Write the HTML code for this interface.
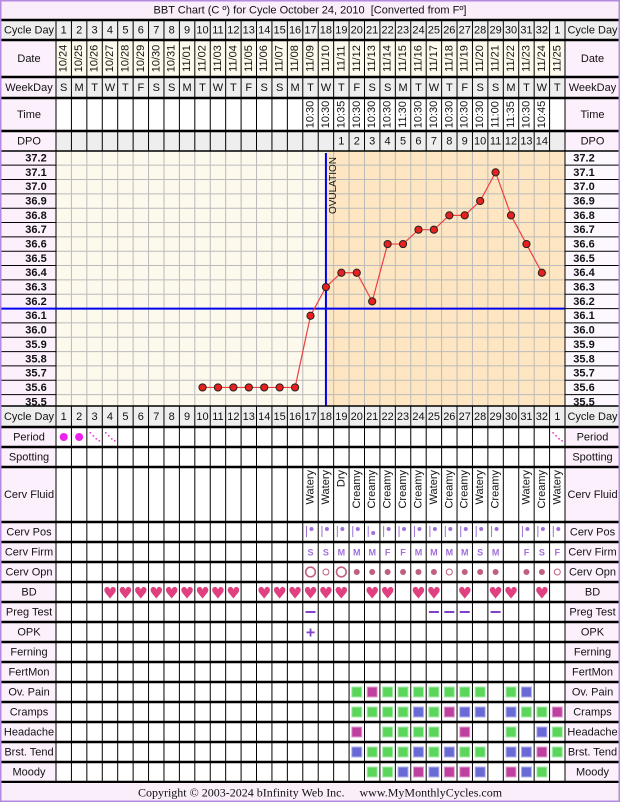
<!DOCTYPE html>
<html><head><meta charset="utf-8">
<style>
html,body{margin:0;padding:0;background:#fff;}
svg{display:block;font-family:"Liberation Sans",sans-serif;}
</style></head>
<body>
<svg id="c" width="620" height="802" viewBox="0 0 620 802" xmlns="http://www.w3.org/2000/svg"></svg>
<script>
// ---- data ----
const cycleDays = [1,2,3,4,5,6,7,8,9,10,11,12,13,14,15,16,17,18,19,20,21,22,23,24,25,26,27,28,29,30,31,32,1];
const dates = ["10/24","10/25","10/26","10/27","10/28","10/29","10/30","10/31","11/01","11/02","11/03","11/04","11/05","11/06","11/07","11/08","11/09","11/10","11/11","11/12","11/13","11/14","11/15","11/16","11/17","11/18","11/19","11/20","11/21","11/22","11/23","11/24","11/25"];
const weekDays = ["S","M","T","W","T","F","S","S","M","T","W","T","F","S","S","M","T","W","T","F","S","S","M","T","W","T","F","S","S","M","T","W","T"];
const times = ["","","","","","","","","","","","","","","","","10:30","10:30","10:35","10:30","10:30","10:30","11:30","10:30","10:30","10:30","10:30","10:30","11:00","11:35","10:30","10:45",""];
const dpo = ["","","","","","","","","","","","","","","","","","","1","2","3","4","5","6","7","8","9","10","11","12","13","14",""];
const temps = [null,null,null,null,null,null,null,null,null,35.6,35.6,35.6,35.6,35.6,35.6,35.6,36.1,36.3,36.4,36.4,36.2,36.6,36.6,36.7,36.7,36.8,36.8,36.9,37.1,36.8,36.6,36.4,null];
const tempTicks = [37.2,37.1,37.0,36.9,36.8,36.7,36.6,36.5,36.4,36.3,36.2,36.1,36.0,35.9,35.8,35.7,35.6,35.5];
const ovulationDay = 18;
const coverline = 36.15;
const period = ["h","h","l","l","","","","","","","","","","","","","","","","","","","","","","","","","","","","","l"];
const fluid = ["","","","","","","","","","","","","","","","","Watery","Watery","Dry","Creamy","Creamy","Creamy","Creamy","Creamy","Watery","Creamy","Creamy","Watery","Creamy","","Watery","Creamy","Watery"];
const cervPos = [0,0,0,0,0,0,0,0,0,0,0,0,0,0,0,0,1,1,1,1,2,1,1,1,1,1,1,1,1,0,1,1,1];
const cervFirm = ["","","","","","","","","","","","","","","","","S","S","M","M","M","F","F","M","M","M","M","S","M","","F","S","F"];
const cervOpn = ["","","","","","","","","","","","","","","","","O","o","O","d","d","d","d","d","d","o","d","d","d","","d","d","o"];
const bd = [0,0,0,1,1,1,1,1,1,1,1,1,0,1,1,1,1,1,1,0,1,1,0,1,1,0,1,0,1,1,0,1,0];
const pregTest = [0,0,0,0,0,0,0,0,0,0,0,0,0,0,0,0,1,0,0,0,0,0,0,0,1,1,1,0,1,0,0,0,0];
const opk = [0,0,0,0,0,0,0,0,0,0,0,0,0,0,0,0,1,0,0,0,0,0,0,0,0,0,0,0,0,0,0,0,0];
const ovPain   = "...................gmggggggg.gb..";
const cramps   = "...................ggggbgmbb.bggm";
const headache = "...................m.gggg.m..g.bg";
const brstTend = "...................bgggbgbgg.bbmg";
const moody    = "....................ggbmbmmb.mbg.";

// ---- geometry ----
const svg = document.getElementById('c');
const NS = "http://www.w3.org/2000/svg";
const X0 = 56, X1 = 565, N = 33, W = (X1 - X0) / N;
const colL = i => X0 + i * W;
const xc = i => X0 + (i + 0.5) * W;
const yT = t => 158 + (37.2 - t) * 143.4;
function mk(tag, attrs, parent) {
  const e = document.createElementNS(NS, tag);
  for (const k in attrs) e.setAttribute(k, attrs[k]);
  (parent || svg).appendChild(e);
  return e;
}
function txt(x, y, s, size, extra) {
  const e = mk('text', Object.assign({x: x, y: y, 'font-size': size, 'text-anchor': 'middle', 'dominant-baseline': 'central', fill: '#111'}, extra || {}));
  e.textContent = s;
  return e;
}

let e;
e = mk('rect', {x: 0, y: 0, width: 620, height: 802, fill: '#fff'});


e = mk('rect', {x: 1, y: 1, width: 618, height: 19, fill: '#f9eefa'});


e = txt(310, 10.5, "BBT Chart (C º) for Cycle October 24, 2010  [Converted from Fº]", 11, {style: 'white-space:pre'});



const topRows = [
  {name: 'cycle-day', label: 'Cycle Day', y0: 20, y1: 40, bg: '#eeeeee'},
  {name: 'date', label: 'Date', y0: 40, y1: 77, bg: '#fdf9ec'},
  {name: 'weekday', label: 'WeekDay', y0: 77, y1: 98, bg: '#eeeeee'},
  {name: 'time', label: 'Time', y0: 98, y1: 131, bg: '#ffffff'},
  {name: 'dpo', label: 'DPO', y0: 131, y1: 151, bg: '#eeeeee'}
];
const lowRows = [
  {name: 'cycle-day-bottom', label: 'Cycle Day', y0: 406, y1: 427, bg: '#eeeeee'},
  {name: 'period', label: 'Period', y0: 427, y1: 447},
  {name: 'spotting', label: 'Spotting', y0: 447, y1: 467},
  {name: 'cerv-fluid', label: 'Cerv Fluid', y0: 467, y1: 522},
  {name: 'cerv-pos', label: 'Cerv Pos', y0: 522, y1: 542},
  {name: 'cerv-firm', label: 'Cerv Firm', y0: 542, y1: 562},
  {name: 'cerv-opn', label: 'Cerv Opn', y0: 562, y1: 582},
  {name: 'bd', label: 'BD', y0: 582, y1: 602},
  {name: 'preg-test', label: 'Preg Test', y0: 602, y1: 622},
  {name: 'opk', label: 'OPK', y0: 622, y1: 642},
  {name: 'ferning', label: 'Ferning', y0: 642, y1: 662},
  {name: 'fertmon', label: 'FertMon', y0: 662, y1: 682},
  {name: 'ov-pain', label: 'Ov. Pain', y0: 682, y1: 702},
  {name: 'cramps', label: 'Cramps', y0: 702, y1: 722},
  {name: 'headache', label: 'Headache', y0: 722, y1: 742},
  {name: 'brst-tend', label: 'Brst. Tend', y0: 742, y1: 762},
  {name: 'moody', label: 'Moody', y0: 762, y1: 782}
];
const allRows = topRows.concat(lowRows);
allRows.forEach(r => {
  const h = r.y1 - r.y0;
  e = mk('rect', {x: X0, y: r.y0, width: X1 - X0, height: h, fill: r.bg || '#fff'});
  
  
  const lb = (r.name.indexOf('cycle-day') === 0) ? '#eeeeee' : '#fdf0fd';
  e = mk('rect', {x: 1, y: r.y0, width: X0 - 1, height: h, fill: lb});
  
  
  e = mk('rect', {x: X1, y: r.y0, width: 619 - X1, height: h, fill: lb});
  
  
  e = txt(X0 / 2 + 1, (r.y0 + r.y1) / 2 + 0.5, r.label, 11);
  
  
  e = txt((X1 + 620) / 2, (r.y0 + r.y1) / 2 + 0.5, r.label, 11);
  
  
  for (let i = 0; i <= N; i++) {
    e = mk('line', {x1: colL(i), x2: colL(i), y1: r.y0, y2: r.y1, stroke: '#000', 'stroke-width': 1});
    
    
  }
});

// chart area
const CY0 = 151, CY1 = 406;
const ovX = xc(ovulationDay - 1);
e = mk('rect', {x: X0, y: CY0, width: X1 - X0, height: CY1 - CY0, fill: '#fdf9ec'});


e = mk('rect', {x: ovX, y: CY0, width: X1 - ovX, height: CY1 - CY0, fill: '#fde6c1'});


e = mk('rect', {x: 1, y: CY0, width: X0 - 1, height: CY1 - CY0, fill: '#fdf0fd'});


e = mk('rect', {x: X1, y: CY0, width: 619 - X1, height: CY1 - CY0, fill: '#fdf8ff'});


for (let i = 1; i < N; i++) {
  e = mk('line', {x1: colL(i), x2: colL(i), y1: CY0, y2: CY1, stroke: '#bbb', 'stroke-width': 1});
  
  
}
tempTicks.forEach((t, k) => {
  const yb = yT(t) + 7.17;
  if (k < tempTicks.length - 1) {
    e = mk('line', {x1: X0, x2: X1, y1: yb, y2: yb, stroke: '#bbb', 'stroke-width': 1});
    
    
    e = mk('line', {x1: 1, x2: X0, y1: yb, y2: yb, stroke: '#000', 'stroke-width': 1});
    
    
    e = mk('line', {x1: X1, x2: 619, y1: yb, y2: yb, stroke: '#000', 'stroke-width': 1});
    
    
  }
  e = txt(36, yT(t) + 0.5, t.toFixed(1), 11, {'font-weight': 'bold'});
  
  
  e = txt(584, yT(t) + 0.5, t.toFixed(1), 11, {'font-weight': 'bold'});
  
  
});
e = mk('line', {x1: X0, x2: X0, y1: CY0, y2: CY1, stroke: '#000', 'stroke-width': 1});


e = mk('line', {x1: X1, x2: X1, y1: CY0, y2: CY1, stroke: '#000', 'stroke-width': 1});


e = mk('line', {x1: ovX, x2: ovX, y1: CY0 + 2, y2: CY1, stroke: '#0000ee', 'stroke-width': 2});


e = mk('text', {x: 0, y: 0, 'font-size': 10, fill: '#111', transform: 'translate(' + (ovX + 10) + ',157) rotate(-90)', 'text-anchor': 'end'});
e.textContent = 'OVULATION';


e = mk('line', {x1: 0, x2: X1, y1: yT(coverline), y2: yT(coverline), stroke: '#0000ee', 'stroke-width': 2});


let pts = [];
temps.forEach((t, i) => { if (t !== null) pts.push(xc(i) + ',' + yT(t)); });
e = mk('polyline', {points: pts.join(' '), fill: 'none', stroke: '#f04040', 'stroke-width': 1.2});


temps.forEach((t, i) => {
  if (t === null) return;
  e = mk('circle', {cx: xc(i), cy: yT(t), r: 3.6, fill: '#e82020', stroke: '#222', 'stroke-width': 1});
  
  
});

for (let i = 0; i < N; i++) {
  e = txt(xc(i), 30.5, String(cycleDays[i]), 11);
  
  
  e = mk('text', {x: 0, y: 0, 'font-size': 11, fill: '#111', 'text-anchor': 'middle', 'dominant-baseline': 'central', transform: 'translate(' + xc(i) + ',58.5) rotate(-90)'});
  e.textContent = dates[i];
  
  
  e = txt(xc(i), 88, weekDays[i], 11);
  
  
  if (times[i]) {
    e = mk('text', {x: 0, y: 0, 'font-size': 11, fill: '#111', 'text-anchor': 'middle', 'dominant-baseline': 'central', transform: 'translate(' + xc(i) + ',114.5) rotate(-90)'});
    e.textContent = times[i];
    
    
  }
  if (dpo[i]) {
    e = txt(xc(i), 141.5, dpo[i], 11);
    
    
  }
  e = txt(xc(i), 417, String(cycleDays[i]), 11);
  
  
}

const rowMid = n => { const r = lowRows.find(r => r.name === n); return (r.y0 + r.y1) / 2; };
for (let i = 0; i < N; i++) {
  const x = xc(i);
  if (period[i] === 'h') {
    e = mk('circle', {cx: x, cy: rowMid('period'), r: 4, fill: '#ee22ee'});
    
    
  } else if (period[i] === 'l') {
    const g = mk('g', {fill: '#ee44cc'});
    
    
    [[-5,-5],[-2,-2],[1,1],[4,3]].forEach(d => mk('rect', {x: x + d[0], y: rowMid('period') + d[1], width: 1.6, height: 1.6}, g));
  }
  if (fluid[i]) {
    e = mk('text', {x: 0, y: 0, 'font-size': 11, fill: '#111', 'text-anchor': 'end', 'dominant-baseline': 'central', transform: 'translate(' + x + ',470) rotate(-90)'});
    e.textContent = fluid[i];
    
    
  }
  if (cervPos[i]) {
    const cy = rowMid('cerv-pos');
    e = mk('line', {x1: x - 4, x2: x - 4, y1: cy - 6, y2: cy + 5, stroke: '#a070d8', 'stroke-width': 1});
    
    
    e = mk('circle', {cx: x + 1, cy: cervPos[i] === 2 ? cy + 1 : cy - 3, r: 2, fill: '#a070d8'});
    
    
  }
  if (cervFirm[i]) {
    e = txt(x, rowMid('cerv-firm') + 0.5, cervFirm[i], 9, {fill: '#a070d8', 'font-weight': 'bold'});
    
    
  }
  const oy = rowMid('cerv-opn');
  if (cervOpn[i] === 'O') {
    e = mk('circle', {cx: x, cy: oy, r: 4.8, fill: 'none', stroke: '#c06080', 'stroke-width': 1.6});
    
    
  } else if (cervOpn[i] === 'o') {
    e = mk('circle', {cx: x, cy: oy, r: 3, fill: 'none', stroke: '#c06080', 'stroke-width': 1});
    
    
  } else if (cervOpn[i] === 'd') {
    e = mk('circle', {cx: x, cy: oy, r: 3, fill: '#c06080'});
    
    
  }
  if (bd[i]) {
    e = txt(x, rowMid('bd') + 1, '♥', 16, {fill: '#e04080', 'font-family': 'DejaVu Sans, sans-serif'});
    
    
  }
  if (pregTest[i]) {
    e = mk('rect', {x: x - 5, y: rowMid('preg-test') - 1, width: 10, height: 2, fill: '#8040c8'});
    
    
  }
  if (opk[i]) {
    e = txt(x, rowMid('opk') + 1, '+', 16, {fill: '#8040c8', 'font-weight': 'bold'});
    
    
  }
}
const symColors = {g: '#5ad65a', m: '#c040a0', b: '#6a6ad6'};
const symBorders = {g: '#a8eaa8', m: '#e0a0d0', b: '#b0b0ee'};
[['ov-pain', ovPain], ['cramps', cramps], ['headache', headache], ['brst-tend', brstTend], ['moody', moody]].forEach(pair => {
  const cy = rowMid(pair[0]);
  for (let i = 0; i < N; i++) {
    const c = pair[1][i];
    if (!symColors[c]) continue;
    e = mk('rect', {x: xc(i) - 5, y: cy - 5, width: 10, height: 10, fill: symColors[c], stroke: symBorders[c], 'stroke-width': 1});
    
    
  }
});

[20, 40, 77, 98, 131, 151, 406, 427, 447, 467, 522, 542, 562, 582, 602, 622, 642, 662, 682, 702, 722, 742, 762, 782].forEach(y => {
  e = mk('line', {x1: 1, x2: 619, y1: y, y2: y, stroke: '#000', 'stroke-width': (y === 151 || y === 406) ? 1.5 : 2.5});
  
  
});
e = mk('line', {x1: X1, x2: X1, y1: 20, y2: 782, stroke: '#000', 'stroke-width': 1});



e = mk('rect', {x: 1, y: 783, width: 618, height: 18, fill: '#f9eefa'});


e = txt(320, 792.5, 'Copyright © 2003-2024 bInfinity Web Inc.     www.MyMonthlyCycles.com', 12, {'font-family': 'Liberation Serif, serif', style: 'white-space:pre'});


e = mk('rect', {x: 0.75, y: 0.75, width: 618.5, height: 800.5, fill: 'none', stroke: '#b48ae0', 'stroke-width': 1.5});


</script>
</body></html>
